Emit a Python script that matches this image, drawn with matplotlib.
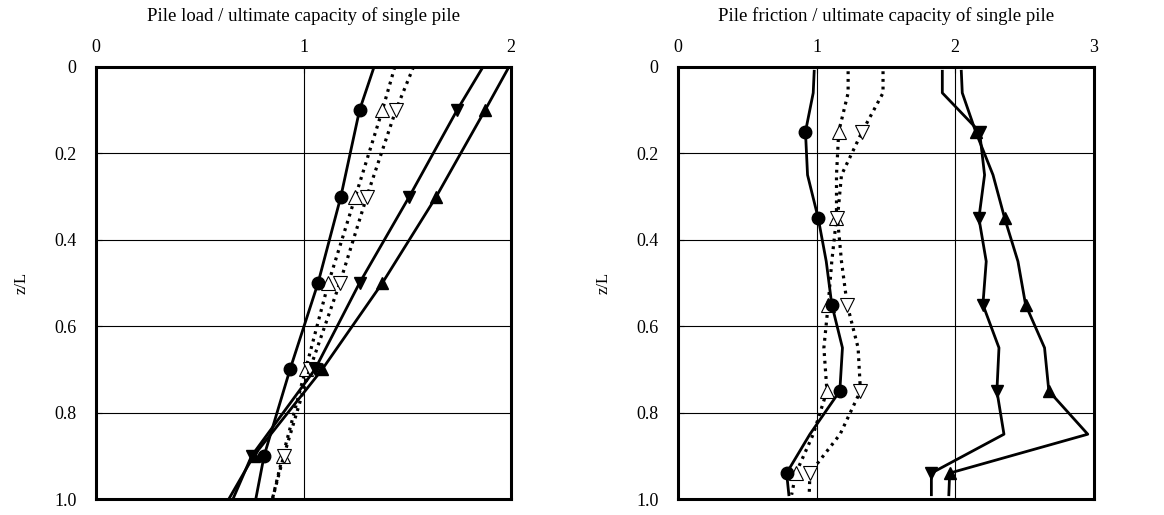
import numpy as np
import matplotlib.pyplot as plt

plt.rcParams['font.family'] = ['Liberation Serif', 'DejaVu Serif']

# left panel: pile load ratio vs depth
z_load = [0.0, 0.1, 0.3, 0.5, 0.7, 0.9, 1.0]
load_circle = [1.34, 1.27, 1.18, 1.07, 0.935, 0.81, 0.77]
load_up_open = [1.44, 1.38, 1.25, 1.12, 1.01, 0.90, 0.85]
load_down_open = [1.53, 1.445, 1.305, 1.175, 1.03, 0.905, 0.85]
load_down_fill = [1.865, 1.74, 1.51, 1.27, 1.055, 0.75, 0.66]
load_up_fill = [1.99, 1.875, 1.64, 1.38, 1.09, 0.76, 0.64]

# right panel: pile friction ratio vs depth
z_fric = [0.01, 0.06, 0.15, 0.25, 0.35, 0.45, 0.55, 0.65, 0.75, 0.85, 0.94, 0.99]
fric_circle = [0.983, 0.976, 0.92, 0.935, 1.012, 1.07, 1.11, 1.187, 1.168, 0.952, 0.784, 0.80]
fric_up_open = [1.228, 1.228, 1.16, 1.144, 1.144, 1.11, 1.084, 1.053, 1.075, 0.976, 0.851, 0.82]
fric_down_open = [1.48, 1.48, 1.329, 1.18, 1.151, 1.18, 1.221, 1.30, 1.317, 1.17, 0.952, 0.947]
fric_down_fill = [1.908, 1.908, 2.177, 2.213, 2.172, 2.225, 2.201, 2.317, 2.302, 2.353, 1.829, 1.829]
fric_up_fill = [2.045, 2.052, 2.149, 2.274, 2.358, 2.454, 2.509, 2.646, 2.677, 2.958, 1.961, 1.955]

y_ticks = [0, 0.2, 0.4, 0.6, 0.8, 1.0]
y_ticklabels = ['0', '0.2', '0.4', '0.6', '0.8', '1.0']

fig = plt.figure(figsize=(11.64, 5.15), dpi=100)
ax1 = fig.add_axes([0.0825, 0.031, 0.3565, 0.839])
ax2 = fig.add_axes([0.5825, 0.031, 0.357, 0.839])

solid = dict(color='black', lw=2.0)
dotted = dict(color='black', lw=2.3, linestyle=(0, (0.9, 1.5)), dash_capstyle='butt')
mk_fill = dict(markerfacecolor='black', markeredgecolor='black', markersize=9)
mk_open = dict(markerfacecolor='white', markeredgecolor='black', markeredgewidth=0.8, markersize=10)


def draw(ax, z, series, every):
    c, uo, do, df, uf = series
    ax.plot(uo, z, marker='^', markevery=every, **dotted, **mk_open)
    ax.plot(do, z, marker='v', markevery=every, **dotted, **mk_open)
    ax.plot(c, z, marker='o', markevery=every, **solid, **mk_fill)
    ax.plot(df, z, marker='v', markevery=every, **solid, **mk_fill)
    ax.plot(uf, z, marker='^', markevery=every, **solid, **mk_fill)


draw(ax1, z_load, [load_circle, load_up_open, load_down_open, load_down_fill, load_up_fill],
     [1, 2, 3, 4, 5])
draw(ax2, z_fric, [fric_circle, fric_up_open, fric_down_open, fric_down_fill, fric_up_fill],
     [2, 4, 6, 8, 10])

for ax, xmax, title in [(ax1, 2, 'Pile load / ultimate capacity of single pile'),
                        (ax2, 3, 'Pile friction / ultimate capacity of single pile')]:
    ax.set_xlim(0, xmax)
    ax.set_ylim(1.0, 0)
    ax.set_xticks(range(xmax + 1))
    ax.set_yticks(y_ticks)
    ax.set_yticklabels(y_ticklabels)
    ax.xaxis.tick_top()
    ax.xaxis.set_label_position('top')
    ax.set_xlabel(title, fontsize=13.5, labelpad=13)
    ax.set_ylabel('z/L', fontsize=12, labelpad=18)
    ax.tick_params(labelsize=13, direction='in', length=4, top=True, bottom=False)
    ax.tick_params(axis='x', pad=8)
    ax.tick_params(axis='y', pad=14)
    ax.grid(True, color='black', lw=0.8)
    ax.set_axisbelow(True)
    for s in ax.spines.values():
        s.set_linewidth(2.2)

fig.savefig('out.png', dpi=100)
